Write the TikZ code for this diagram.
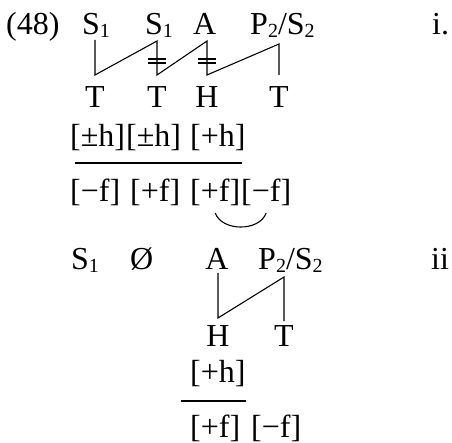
\documentclass[tikz,border=0pt]{standalone}
\usepackage{fontspec}
\setmainfont{Liberation Serif}
\usetikzlibrary{calc}
\usetikzlibrary{positioning}

\newcommand\subs[1]{\raisebox{-2.5pt}{\fontsize{20}{22}\selectfont#1}}

\begin{document}
\begin{tikzpicture}[x=1pt, y=1pt]
    \tikzset{
        seg/.style={anchor=base, inner sep=0pt, font=\fontsize{32}{38}\selectfont},
        segw/.style={seg, anchor=base west},
        assoc/.style={line width=1.1pt, line join=miter},
        delink/.style={line width=1.1pt}
    }
    \useasboundingbox (0,0) rectangle (452,-443);

    % i.
    \node[segw] (ex) at (6,-35) {(48)};
    \node[segw] (s1a) at (82,-35) {S\subs{1}};
    \node[segw] (s1b) at (145,-35) {S\subs{1}};
    \node[segw] (aa) at (193,-35) {A};
    \node[segw] (ps) at (250,-35) {P\subs{2}/S\subs{2}};
    \node[segw] (ia) at (432,-35) {i.};

    \node[seg] (t1) at (95,-108) {T};
    \node[seg] (t2) at (157,-108) {T};
    \node[seg] (ha) at (207,-108) {H};
    \node[seg] (t3) at (279,-108) {T};

    \draw[assoc] ($(t1 |- s1a.base)+(0,-5)$) -- ($(t1.base)+(0,33)$)
        -- ($(t2 |- s1b.base)+(0,-6)$) -- ($(t2.base)+(0,33)$)
        -- ($(ha |- aa.base)+(0,-6)$) -- ($(ha.base)+(0,33)$)
        -- ($(t3 |- ps.base)+(0,-9)$) -- ($(t3.base)+(0,33)$);
    \foreach \t in {t2,ha}
        \foreach \dy in {49,45}
            \draw[delink] ($(\t.base)+(-9,\dy)$) -- ($(\t.base)+(9,\dy)$);

    \node[segw] (hh1) at (70,-147) {[±h]};
    \node[segw] (hh2) at (126,-147) {[±h]};
    \node[segw] (hh3) at (190,-147) {[+h]};
    \draw[delink] ($(hh1.base west)+(5,-16)$) -- ($(hh3.base east)+(-4,-16)$);

    \node[segw] (f1) at (70,-202) {[−f]};
    \node[segw] (f2) at (130,-202) {[+f]};
    \node[segw] (f3) at (190,-202) {[+f]};
    \node[segw] (f4) at (241,-202) {[−f]};
    \draw[delink] ($(f3.base)+(0,-11)$) to[bend right=70] ($(f4.base)+(0,-11)$);

    % ii
    \node[segw] (s1c) at (71,-270) {S\subs{1}};
    \node[segw] (zero) at (130,-270) {Ø};
    \node[seg] (ab) at (217,-270) {A};
    \node[segw] (ps2) at (258,-270) {P\subs{2}/S\subs{2}};
    \node[segw] (ib) at (431,-270) {ii};

    \node[seg] (hb) at (218,-346) {H};
    \node[seg] (tb) at (284,-346) {T};

    \draw[assoc] ($(hb |- ab.base)+(0,-3)$) -- ($(hb.base)+(0,28)$)
        -- ($(tb |- ps2.base)+(0,-7)$) -- ($(tb.base)+(0,25)$);

    \node[segw] (hh4) at (190,-382) {[+h]};
    \draw[delink] ($(hh4.base west)+(-9,-19)$) -- ($(hh4.base east)+(0,-19)$);

    \node[segw] (f5) at (190,-437) {[+f]};
    \node[segw] (f6) at (251,-437) {[−f]};
\end{tikzpicture}
\end{document}
